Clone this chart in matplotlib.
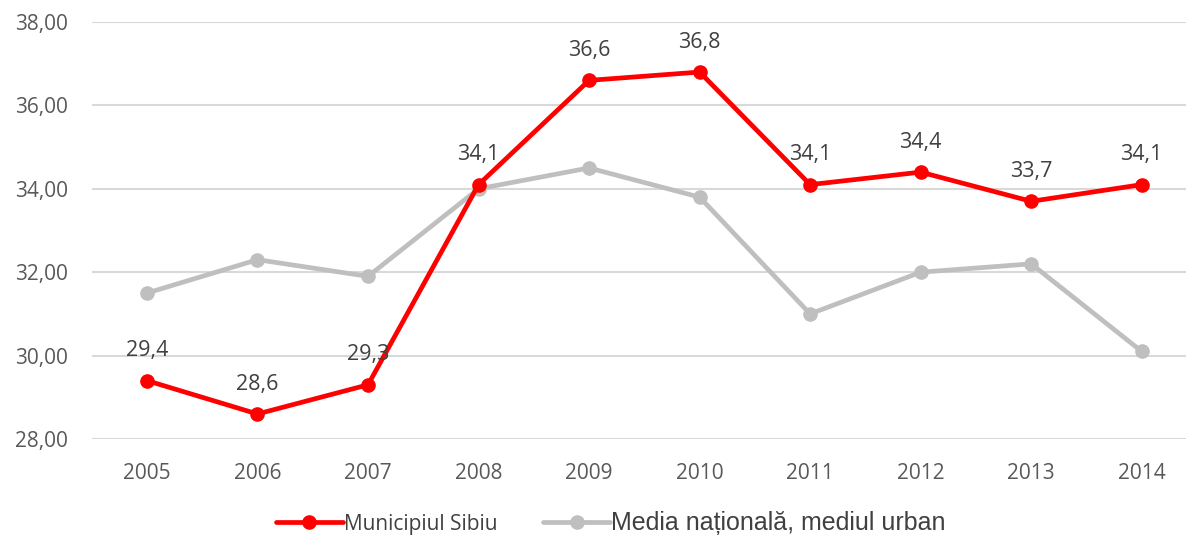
import matplotlib.pyplot as plt
import numpy as np

years = ["2005", "2006", "2007", "2008", "2009", "2010", "2011", "2012", "2013", "2014"]
sibiu = [29.4, 28.6, 29.3, 34.1, 36.6, 36.8, 34.1, 34.4, 33.7, 34.1]
sibiu_labels = ["29,4", "28,6", "29,3", "34,1", "36,6", "36,8", "34,1", "34,4", "33,7", "34,1"]
media = [31.5, 32.3, 31.9, 34.0, 34.5, 33.8, 31.0, 32.0, 32.2, 30.1]
yticks = [28, 30, 32, 34, 36, 38]

plt.rcParams['font.family'] = ['Open Sans', 'DejaVu Sans']

fig = plt.figure(figsize=(11.86, 5.36), dpi=100)
ax = fig.add_axes([91.7 / 1186, 1 - 439 / 536, (1197 - 91.7) / 1186, (439 - 22) / 536])

x = np.arange(len(years))
l2, = ax.plot(x, media, color="#bfbfbf", lw=3.4, marker="o", ms=9.5, zorder=3,
              solid_capstyle="round")
l1, = ax.plot(x, sibiu, color="#ff0000", lw=3.4, marker="o", ms=9.5, zorder=4,
              solid_capstyle="round")

for xi, yi, lab in zip(x, sibiu, sibiu_labels):
    ax.annotate(lab, (xi, yi), xytext=(0, 14), textcoords="offset points",
                ha="center", va="bottom", fontsize=15.5, color="#404040", zorder=5)

ax.set_xlim(-0.5, len(years) - 0.5)
ax.set_ylim(28, 38)
ax.set_yticks(yticks)
ax.set_yticklabels([f"{v:.2f}".replace(".", ",") for v in yticks])
ax.set_xticks(x)
ax.set_xticklabels(years)
ax.tick_params(length=0, labelsize=15, labelcolor="#595959")
ax.tick_params(axis="x", pad=17)
ax.tick_params(axis="y", pad=17)
ax.grid(axis="y", color="#d9d9d9", lw=1.5)
ax.set_axisbelow(True)
for s in ax.spines.values():
    s.set_visible(False)

leg = fig.legend([l1, l2], ["Municipiul Sibiu", "Media națională, mediul urban"],
                 loc="center", bbox_to_anchor=(0.515, 0.025), ncol=2, frameon=False,
                 handlelength=3.2, handletextpad=0.05, columnspacing=2.2, fontsize=15)
for t in leg.get_texts():
    t.set_color("#404040")
leg.get_texts()[1].set_family("Liberation Sans")
leg.get_texts()[1].set_fontsize(18)

fig.savefig("out.png", dpi=100)
